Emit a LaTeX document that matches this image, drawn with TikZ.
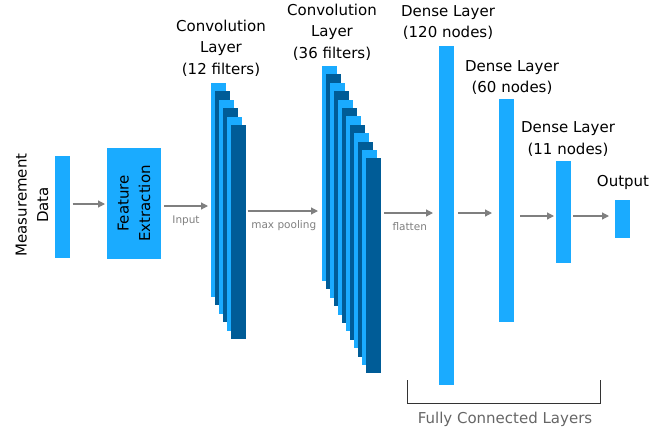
\documentclass[tikz,border=0pt]{standalone}
\usepackage{fontspec}
\setmainfont{DejaVu Sans}
\usetikzlibrary{arrows.meta}
\definecolor{cnnLight}{HTML}{1AABFF}
\definecolor{cnnDark}{HTML}{005C97}
\definecolor{cnnGrey}{HTML}{7F7F7F}
\definecolor{cnnText}{HTML}{666666}
\tikzset{
  bar/.style={
    fill=cnnLight, draw=none, inner sep=0pt, outer sep=0pt,
    minimum width=14.5pt, anchor=north west
  },
  flow/.style={-{Triangle[length=7pt, width=7pt]}, line width=1.2pt, draw=cnnGrey,
    shorten <=3pt, shorten >=3pt},
  title/.style={font=\fontsize{15}{21.5}\selectfont, align=center, text=black},
  small/.style={font=\fontsize{10.5}{12}\selectfont, text=cnnGrey, inner sep=1pt},
  brace/.style={line width=0.8pt, draw=black!80},
}

\begin{document}
\begin{tikzpicture}[x=1pt, y=-1pt]
  \useasboundingbox (0,0) rectangle (667,434);

  % input side
  \node[bar, minimum height=102pt] (md) at (55,156) {};
  \node[title, rotate=90] (mdlbl) at (32,205) {Measurement\\Data};
  \node[bar, minimum width=54pt, minimum height=111pt] (fe) at (107,148) {};
  \node[title, rotate=90] (felbl) at (fe.center) {Feature\\Extraction};

  % convolution stacks
  \foreach \i in {0,...,5}{
    \ifodd\i \def\c{cnnDark}\else \def\c{cnnLight}\fi
    \node[bar, fill=\c, minimum height=214pt] (c1-\i) at (211+4*\i, 83+8.4*\i) {};
  }
  \foreach \i in {0,...,11}{
    \ifodd\i \def\c{cnnDark}\else \def\c{cnnLight}\fi
    \node[bar, fill=\c, minimum height=215pt] (c2-\i) at (322+4*\i, 66+8.4*\i) {};
  }
  \node[title] (lc1) at (221,48) {Convolution\\Layer\\(12 filters)};
  \node[title] (lc2) at (332,32) {Convolution\\Layer\\(36 filters)};

  % dense layers
  \node[bar, minimum width=15pt, minimum height=339pt] (d1) at (439,46) {};
  \node[bar, minimum width=15pt, minimum height=223pt] (d2) at (499,99) {};
  \node[bar, minimum width=15pt, minimum height=102pt] (d3) at (556,161) {};
  \node[bar, minimum width=15pt, minimum height=38pt]  (out) at (615,200) {};
  \node[title] (ld1) at (448,22.5) {Dense Layer\\(120 nodes)};
  \node[title] (ld2) at (512,77.5) {Dense Layer\\(60 nodes)};
  \node[title] (ld3) at (568,139) {Dense Layer\\(11 nodes)};
  \node[title] (lout) at (623,182) {Output};

  % arrows
  \draw[flow, shorten >=2pt] (md.east |- 0,204) -- (fe.west |- 0,204);
  \draw[flow] (fe.east |- 0,206) -- (c1-0.west |- 0,206)
    node[small, midway, below=8pt] {Input};
  \draw[flow, shorten <=2pt, shorten >=4pt] (c1-5.east |- 0,211) -- (c2-0.west |- 0,211)
    node[small, midway, below=8pt] {max pooling};
  \draw[flow, shorten <=3.5pt, shorten >=6pt] (c2-11.east |- 0,213) -- (d1.west |- 0,213)
    node[small, midway, below=8pt] {flatten};
  \draw[flow, shorten <=4pt, shorten >=7pt] (d1.east |- 0,213) -- (d2.west |- 0,213);
  \draw[flow, shorten <=6pt, shorten >=2pt] (d2.east |- 0,216) -- (d3.west |- 0,216);
  \draw[flow, shorten <=2pt, shorten >=6pt] (d3.east |- 0,216) -- (out.west |- 0,216);

  % fully connected bracket
  \draw[brace] (407,380) -- (407,403) -- (600,403) -- (600,380);
  \node[title, text=cnnText] (fcl) at (505,419) {Fully Connected Layers};
\end{tikzpicture}
\end{document}
